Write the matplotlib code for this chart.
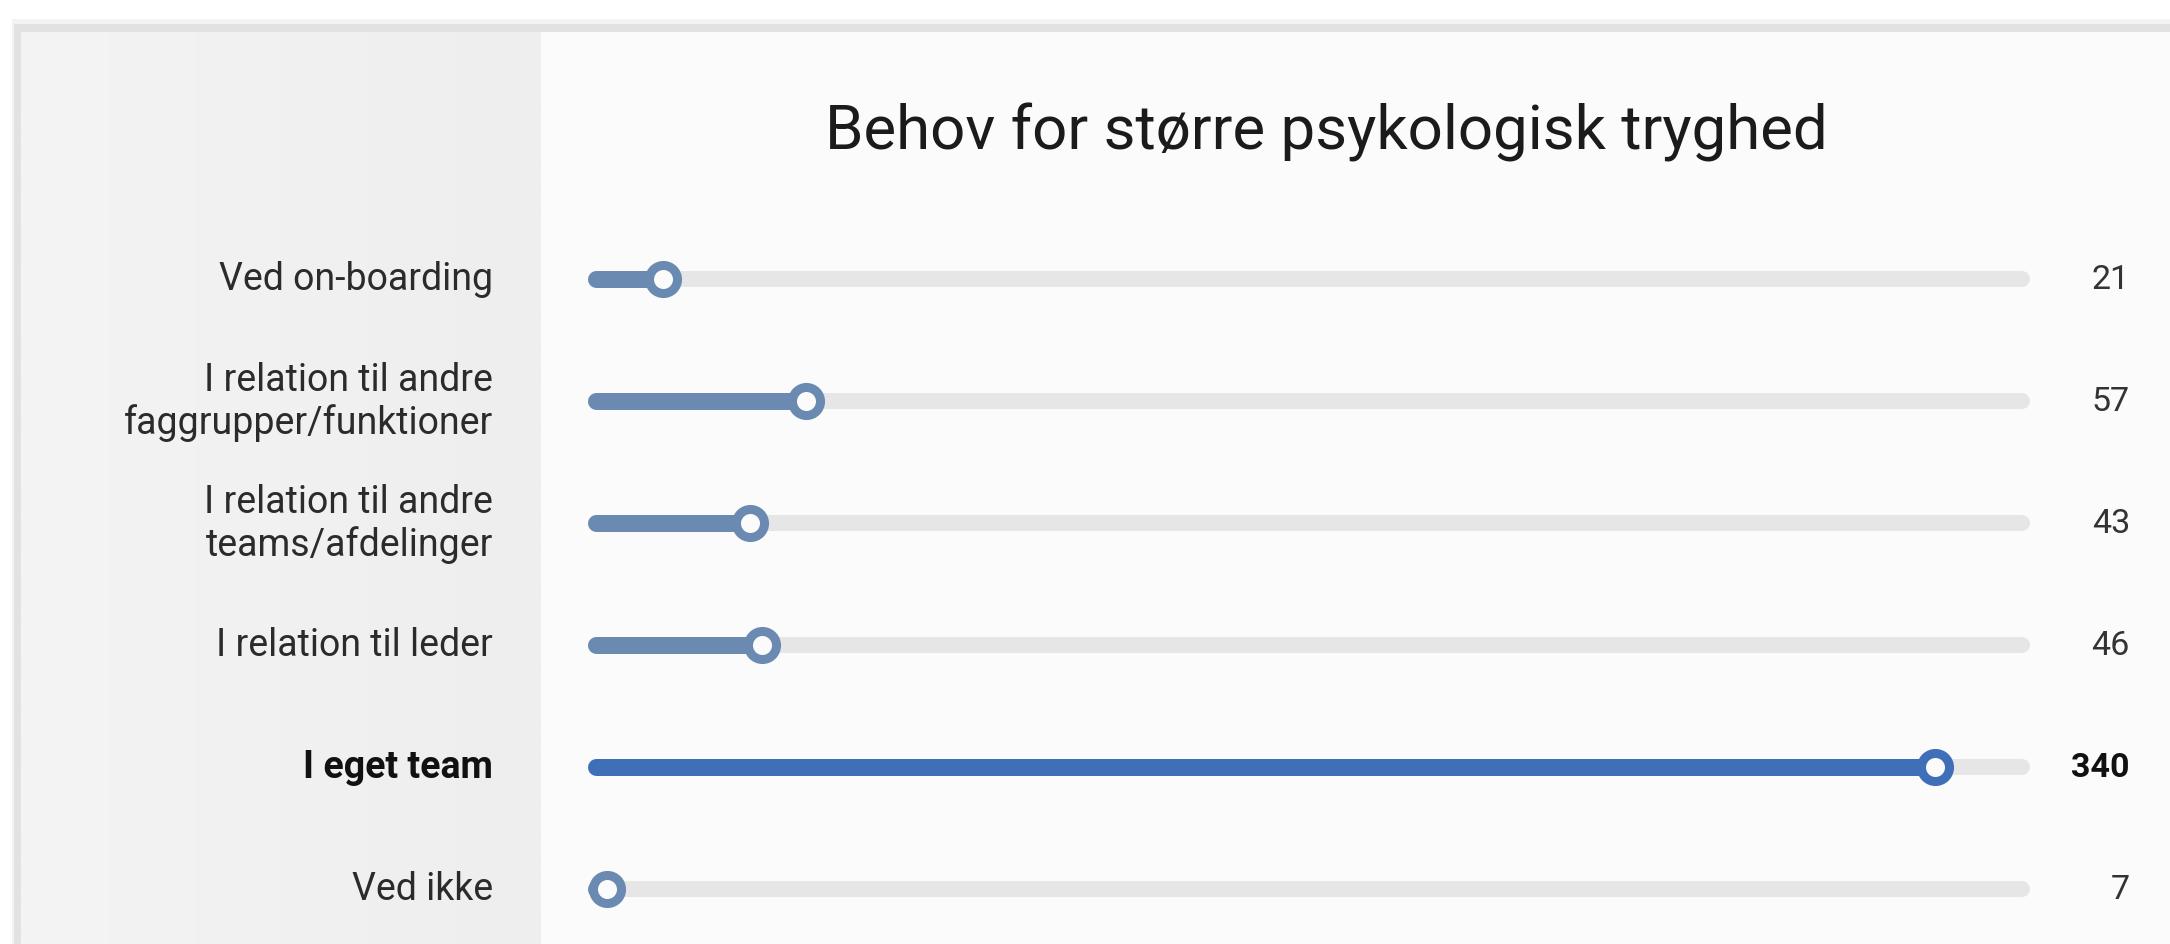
import matplotlib
matplotlib.use("Agg")
import matplotlib.pyplot as plt
import numpy as np
from matplotlib.patches import Rectangle
import matplotlib.transforms as mtransforms

# ---- data ----
title = "Behov for større psykologisk tryghed"
categories = [
    "Ved on-boarding",
    "I relation til andre\nfaggrupper/funktioner",
    "I relation til andre\nteams/afdelinger",
    "I relation til leder",
    "I eget team",
    "Ved ikke",
]
values = [21, 57, 43, 46, 340, 7]
highlight = [False, False, False, False, True, False]
track_max = 362

# ---- style ----
W, H = 2170, 945
DPI = 100
col_bar = "#6a8ab2"
col_hi = "#3f6fb6"
col_track = "#e6e6e6"
col_face = "#fbfbfb"

plt.rcParams["font.family"] = ["Roboto", "DejaVu Sans"]

fig = plt.figure(figsize=(W / DPI, H / DPI), dpi=DPI)
fig.patch.set_facecolor("white")

# background card (pixel coordinates)
bg = fig.add_axes([0, 0, 1, 1])
bg.set_xlim(0, W)
bg.set_ylim(H, 0)
bg.axis("off")
bg.add_patch(Rectangle((12, 20), W, H, facecolor="#f3f3f3", edgecolor="none"))
bg.add_patch(Rectangle((14, 25), W, H, facecolor="#e2e2e2", edgecolor="none"))
bg.add_patch(Rectangle((21, 33), W, H, facecolor=col_face, edgecolor="none"))
grad = np.linspace(0, 1, 256)[None, :]
from matplotlib.colors import LinearSegmentedColormap
cm = LinearSegmentedColormap.from_list("g", ["#f4f4f4", "#f1f1f2", "#eeeeef"])
bg.imshow(grad, cmap=cm, extent=(21, 541, H, 33), aspect="auto", zorder=1)

# title
bg.text(1326, 149, title, ha="center", va="baseline", fontsize=44.5,
        color="#1b1b1b", zorder=5)

# main axes: zero at px 579, 3.987 px per unit
x0_px = 579
k = 3.987
row0_px = 280
row_step = 122
ax_left = x0_px / W
ax_w = (W - x0_px) / W
top_px = row0_px - 0.5 * row_step
ax_bottom = 0.0
ax_h = (H - top_px) / H
ax = fig.add_axes([ax_left, ax_bottom, ax_w, ax_h])
ax.set_xlim(0, (W - x0_px) / k)
ax.set_ylim((H - row0_px) / row_step, -0.5)
ax.axis("off")
ax.patch.set_alpha(0)

lw_track_px = 16
lw_bar_px = 17
px2pt = 72 / DPI
start = (8 + lw_bar_px / 2) / k  # visible start at px 587

ys = np.arange(len(categories))
for i, (v, hi) in enumerate(zip(values, highlight)):
    c = col_hi if hi else col_bar
    ax.plot([start, track_max], [i, i], color=col_track, lw=lw_track_px * px2pt,
            solid_capstyle="round", zorder=2)
    ax.plot([start, max(v, start)], [i, i], color=c, lw=lw_bar_px * px2pt,
            solid_capstyle="round", zorder=3)
    ax.plot([v], [i], marker="o", ms=20.2, mew=6.5, mec=c, mfc=col_face,
            zorder=4, clip_on=False)

lab_tr = mtransforms.blended_transform_factory(fig.transFigure, ax.transData)
for i, (lab, v, hi) in enumerate(zip(categories, values, highlight)):
    ax.text(493 / W, i, lab, transform=lab_tr, ha="right", va="center",
            fontsize=27, color="#111111" if hi else "#2b2b2b",
            fontweight="bold" if hi else "normal", linespacing=1.2)
    ax.text(2130 / W, i, f"{v}", transform=lab_tr, ha="right", va="center",
            fontsize=24.5, color="#111111" if hi else "#333333",
            fontweight="bold" if hi else "normal")

fig.savefig("out.png", dpi=DPI, facecolor="white")
